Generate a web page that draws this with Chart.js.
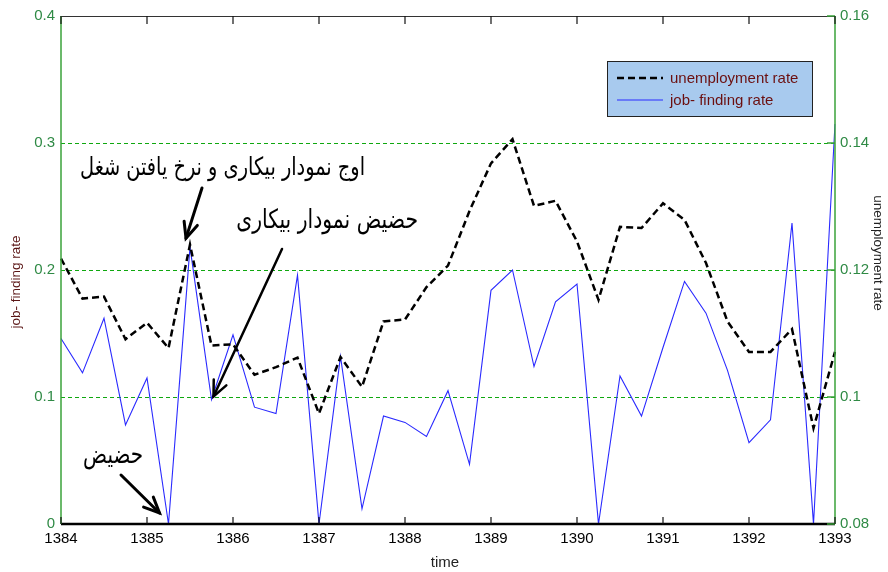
<!DOCTYPE html>
<html><head><meta charset="utf-8">
<script src="https://cdn.jsdelivr.net/npm/chart.js@4.4.1/dist/chart.umd.min.js"></script>
<style>html,body{margin:0;padding:0;background:#fff;overflow:hidden}#wrap{width:888px;height:572px;position:relative}</style>
</head><body><div id="wrap"><canvas id="c"></canvas></div>
<script>
// ---- data (quarterly, Iranian calendar years) ----
const periods = [
 '1384Q1','1384Q2','1384Q3','1384Q4',
 '1385Q1','1385Q2','1385Q3','1385Q4',
 '1386Q1','1386Q2','1386Q3','1386Q4',
 '1387Q1','1387Q2','1387Q3','1387Q4',
 '1388Q1','1388Q2','1388Q3','1388Q4',
 '1389Q1','1389Q2','1389Q3','1389Q4',
 '1390Q1','1390Q2','1390Q3','1390Q4',
 '1391Q1','1391Q2','1391Q3','1391Q4',
 '1392Q1','1392Q2','1392Q3','1392Q4',
 '1393Q1'];
const yearLabels = ['1384','1385','1386','1387','1388','1389','1390','1391','1392','1393'];
const jobFinding = [0.146,0.119,0.162,0.078,0.115,0.0,0.218,0.098,0.149,0.092,
 0.087,0.196,0.0,0.132,0.012,0.085,0.080,0.069,0.105,0.047,
 0.184,0.200,0.124,0.175,0.189,0.0,0.1165,0.085,0.139,0.191,
 0.166,0.121,0.064,0.082,0.237,0.0,0.315];
const unemployment = [0.1218,0.1155,0.1158,0.1091,0.1117,0.1077,0.1240,0.1081,0.1083,0.1035,
 0.1047,0.1062,0.0974,0.1063,0.1016,0.1119,0.1122,0.1173,0.1207,0.1293,
 0.1368,0.1406,0.1301,0.1309,0.1245,0.1153,0.1268,0.1266,0.1305,0.1279,
 0.1211,0.1119,0.1071,0.1071,0.1107,0.0951,0.1071];
const leftTicks = [0,0.1,0.2,0.3,0.4];
const rightTicks = [0.08,0.10,0.12,0.14,0.16];
const noteTexts = ['اوج نمودار بیکاری و نرخ یافتن شغل','حضیض نمودار بیکاری','حضیض'];

const GREEN = '#0fa80f';
const TICKGREEN = '#2f8a45';
const SANS = '"Liberation Sans", Arial, sans-serif';

function arrow(ctx, x0, y0, x1, y1, lw, head){
  ctx.save();
  ctx.strokeStyle = '#000'; ctx.lineWidth = lw; ctx.lineCap = 'round';
  ctx.beginPath(); ctx.moveTo(x0,y0); ctx.lineTo(x1,y1); ctx.stroke();
  const a = Math.atan2(y1-y0, x1-x0);
  ctx.beginPath();
  ctx.moveTo(x1 - head*Math.cos(a-0.42), y1 - head*Math.sin(a-0.42));
  ctx.lineTo(x1,y1);
  ctx.lineTo(x1 - head*Math.cos(a+0.42), y1 - head*Math.sin(a+0.42));
  ctx.stroke();
  ctx.restore();
}
function fitText(ctx, txt, right, base, width){
  ctx.save();
  ctx.font = '20px "DejaVu Sans", sans-serif';
  const w = ctx.measureText(txt).width;
  const fs = 20*width/w;
  ctx.font = fs.toFixed(2)+'px "DejaVu Sans", sans-serif';
  ctx.fillStyle = '#000';
  ctx.textAlign = 'right'; ctx.textBaseline = 'alphabetic';
  ctx.direction = 'rtl';
  ctx.translate(right, base); ctx.scale(1, 1.3);
  ctx.fillText(txt, 0, 0);
  ctx.restore();
}

const decor = {
  id:'decor',
  beforeDatasetsDraw(chart){
    const {ctx, chartArea:a, scales} = chart;
    ctx.save();
    ctx.strokeStyle = GREEN; ctx.lineWidth = 1; ctx.setLineDash([4,3]);
    leftTicks.forEach(v=>{
      if (v<=0 || v>=0.4) return;
      const y = Math.round(scales.y.getPixelForValue(v)) + 0.5;
      ctx.beginPath(); ctx.moveTo(a.left, y); ctx.lineTo(a.right, y); ctx.stroke();
    });
    ctx.restore();
  },
  afterDatasetsDraw(chart){
    const {ctx, chartArea:a, scales} = chart;
    const sx = scales.x, sy = scales.y, sy2 = scales.y2;
    ctx.save();
    // frame
    ctx.lineWidth = 1; ctx.strokeStyle = '#333';
    ctx.beginPath(); ctx.moveTo(a.left, a.top+0.5); ctx.lineTo(a.right, a.top+0.5); ctx.stroke();
    ctx.strokeStyle = '#000'; ctx.lineWidth = 2.5;
    ctx.beginPath(); ctx.moveTo(a.left, a.bottom); ctx.lineTo(a.right, a.bottom); ctx.stroke();
    ctx.strokeStyle = '#3aa23a'; ctx.lineWidth = 1.5;
    ctx.beginPath(); ctx.moveTo(a.left, a.top); ctx.lineTo(a.left, a.bottom); ctx.stroke();
    ctx.beginPath(); ctx.moveTo(a.right, a.top); ctx.lineTo(a.right, a.bottom); ctx.stroke();
    // right axis inward ticks
    ctx.strokeStyle = '#3aa23a'; ctx.lineWidth = 1.5;
    rightTicks.forEach(v=>{ const y = sy2.getPixelForValue(v);
      ctx.beginPath(); ctx.moveTo(a.right-8, y); ctx.lineTo(a.right, y); ctx.stroke(); });
    // x inward ticks top and bottom
    ctx.strokeStyle = '#111'; ctx.lineWidth = 1.2;
    periods.forEach((p,i)=>{ if(i%4!==0) return; const x = sx.getPixelForValue(i);
      ctx.beginPath(); ctx.moveTo(x, a.bottom); ctx.lineTo(x, a.bottom-7); ctx.stroke();
      ctx.beginPath(); ctx.moveTo(x, a.top); ctx.lineTo(x, a.top+8); ctx.stroke(); });
    // axis titles
    ctx.font = '13.5px '+SANS; ctx.textAlign='center'; ctx.textBaseline='middle';
    ctx.fillStyle = '#5a1515';
    ctx.save(); ctx.translate(16, 282); ctx.rotate(-Math.PI/2); ctx.fillText('job- finding rate',0,0); ctx.restore();
    ctx.fillStyle = '#222';
    ctx.save(); ctx.translate(878, 253); ctx.rotate(Math.PI/2); ctx.fillText('unemployment rate',0,0); ctx.restore();
    ctx.font = '15px '+SANS; ctx.fillStyle='#222';
    ctx.fillText('time', 445, 563);
    // legend
    const ds = chart.data.datasets;
    const items = [ds[1], ds[0]];
    ctx.fillStyle = '#a8caee'; ctx.fillRect(607, 61, 206, 56);
    ctx.strokeStyle = '#222'; ctx.lineWidth = 1; ctx.strokeRect(607.5, 61.5, 205, 55);
    items.forEach((d,i)=>{
      const y = 78 + i*22;
      ctx.save(); ctx.strokeStyle = d.borderColor; ctx.lineWidth = d.borderWidth;
      ctx.setLineDash(d.borderDash||[]);
      ctx.beginPath(); ctx.moveTo(617,y); ctx.lineTo(663,y); ctx.stroke(); ctx.restore();
      ctx.font = '15px '+SANS; ctx.fillStyle = '#6b0f0f'; ctx.textAlign='left'; ctx.textBaseline='middle';
      ctx.fillText(d.label, 670, y+1);
    });
    // annotations
    fitText(ctx, noteTexts[0], 365, 175, 285);
    fitText(ctx, noteTexts[1], 418, 228, 182);
    fitText(ctx, noteTexts[2], 143, 463, 60);
    const px = i=>sx.getPixelForValue(i);
    arrow(ctx, 202, 188, px(6)-4, sy.getPixelForValue(jobFinding[6])-9, 3, 17);
    arrow(ctx, 282, 249, px(7)+2, sy.getPixelForValue(jobFinding[7])-3, 2.5, 17);
    arrow(ctx, 121, 475, px(5)-9, sy.getPixelForValue(jobFinding[5])-11, 3, 17);
    ctx.restore();
  }
};

new Chart(document.getElementById('c'), {
  type:'line',
  data:{labels:periods, datasets:[
    {label:'job- finding rate', data:jobFinding, yAxisID:'y', borderColor:'#2a2aff', borderWidth:1.1, pointRadius:0, tension:0, order:2},
    {label:'unemployment rate', data:unemployment, yAxisID:'y2', borderColor:'#000', borderWidth:2.5, borderDash:[7,4], pointRadius:0, tension:0, order:1}
  ]},
  options:{
    responsive:true, maintainAspectRatio:false, animation:false, devicePixelRatio:1,
    layout:{padding:{top:16,left:0,right:0,bottom:0}},
    plugins:{legend:{display:false}, tooltip:{enabled:false}},
    scales:{
      x:{type:'category', offset:false,
         grid:{display:false, drawTicks:false}, border:{display:false},
         ticks:{autoSkip:false, maxRotation:0, minRotation:0, padding:6, color:'#000', font:{family:SANS, size:15},
                callback:(v,i)=> i%4===0 ? yearLabels[i/4] : ''},
         afterFit:s=>{s.height=48;}},
      y:{position:'left', min:0, max:0.4,
         afterBuildTicks:s=>{s.ticks = leftTicks.map(v=>({value:v}));},
         grid:{display:false, drawTicks:false}, border:{display:false},
         ticks:{padding:6, color:TICKGREEN, font:{family:SANS, size:15}, callback:v=> String(+(+v).toFixed(1))},
         afterFit:s=>{s.width=61;}},
      y2:{position:'right', min:0.08, max:0.16,
         afterBuildTicks:s=>{s.ticks = rightTicks.map(v=>({value:v}));},
         grid:{display:false, drawTicks:false}, border:{display:false},
         ticks:{padding:5, color:TICKGREEN, font:{family:SANS, size:15}, callback:v=> String(+(+v).toFixed(2))},
         afterFit:s=>{s.width=53;}}
    }
  },
  plugins:[decor]
});
</script></body></html>
